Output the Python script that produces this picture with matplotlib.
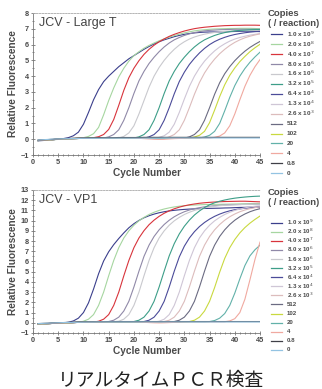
import matplotlib
matplotlib.use("Agg")
import matplotlib.pyplot as plt
from matplotlib.lines import Line2D
from matplotlib.ticker import MultipleLocator

plt.rcParams['font.family'] = ['Liberation Sans', 'DejaVu Sans']

cycles = list(range(1, 46))

copies = ["1.0 x 10$^9$", "2.0 x 10$^8$", "4.0 x 10$^7$", "8.0 x 10$^6$",
          "1.6 x 10$^6$", "3.2 x 10$^5$", "6.4 x 10$^4$", "1.3 x 10$^4$",
          "2.6 x 10$^3$", "512", "102", "20", "4", "0.8", "0"]

colors = ["#3b3f8c", "#a6d6a0", "#d8343c", "#9089a8", "#c9c9ce", "#3d9e88",
          "#4b4b99", "#cfc6d6", "#dcbcbc", "#6b6b82", "#c9d93f", "#62b1a9",
          "#f0a9a0", "#3f3f47", "#93c3e2"]

# JCV - Large T : relative fluorescence per cycle (1..45)
large_t = [
    [-0.10, -0.08, -0.05, -0.03, 0.00, 0.04, 0.10, 0.22, 0.45, 0.95,
     1.70, 2.50, 3.15, 3.65, 4.00, 4.30, 4.60, 4.85, 5.10, 5.30,
     5.50, 5.70, 5.88, 6.04, 6.18, 6.30, 6.40, 6.50, 6.58, 6.65,
     6.70, 6.74, 6.77, 6.79, 6.80, 6.80, 6.80, 6.81, 6.82, 6.83,
     6.84, 6.85, 6.85, 6.84, 6.82],
    [-0.09, -0.07, -0.05, -0.03, -0.01, 0.01, 0.03, 0.05, 0.07, 0.10,
     0.18, 0.35, 0.75, 1.55, 2.45, 3.25, 3.95, 4.50, 4.95, 5.30,
     5.55, 5.77, 5.95, 6.10, 6.24, 6.36, 6.47, 6.57, 6.66, 6.74,
     6.81, 6.87, 6.91, 6.94, 6.97, 6.99, 7.00, 7.01, 7.02, 7.02,
     7.03, 7.03, 7.03, 7.02, 7.00],
    [-0.08, -0.06, -0.04, -0.02, 0.00, 0.02, 0.04, 0.05, 0.06, 0.07,
     0.08, 0.10, 0.16, 0.30, 0.62, 1.25, 2.15, 3.10, 3.90, 4.50,
     4.98, 5.38, 5.70, 5.96, 6.18, 6.36, 6.52, 6.65, 6.76, 6.86,
     6.94, 7.01, 7.06, 7.10, 7.13, 7.16, 7.18, 7.20, 7.21, 7.22,
     7.22, 7.23, 7.23, 7.23, 7.22],
    [-0.08, -0.06, -0.04, -0.02, 0.00, 0.02, 0.03, 0.04, 0.05, 0.06,
     0.06, 0.07, 0.07, 0.08, 0.15, 0.30, 0.60, 1.20, 2.00, 2.90,
     3.70, 4.30, 4.80, 5.20, 5.55, 5.85, 6.10, 6.30, 6.45, 6.58,
     6.68, 6.76, 6.82, 6.87, 6.90, 6.92, 6.94, 6.95, 6.96, 6.97,
     6.97, 6.97, 6.97, 6.97, 6.97],
    [-0.08, -0.06, -0.04, -0.02, 0.00, 0.02, 0.03, 0.04, 0.05, 0.06,
     0.06, 0.07, 0.07, 0.08, 0.08, 0.08, 0.08, 0.18, 0.40, 0.85,
     1.60, 2.45, 3.30, 4.00, 4.55, 5.00, 5.38, 5.70, 5.97, 6.18,
     6.35, 6.48, 6.58, 6.66, 6.72, 6.77, 6.81, 6.84, 6.86, 6.88,
     6.89, 6.90, 6.90, 6.90, 6.90],
    [-0.08, -0.06, -0.04, -0.02, 0.00, 0.02, 0.03, 0.04, 0.05, 0.06,
     0.06, 0.07, 0.07, 0.08, 0.08, 0.08, 0.08, 0.08, 0.08, 0.08,
     0.15, 0.30, 0.60, 1.20, 2.00, 2.90, 3.70, 4.30, 4.80, 5.20,
     5.55, 5.85, 6.10, 6.30, 6.45, 6.58, 6.68, 6.76, 6.82, 6.87,
     6.90, 6.92, 6.94, 6.95, 6.96],
    [-0.08, -0.06, -0.04, -0.02, 0.00, 0.02, 0.03, 0.04, 0.05, 0.06,
     0.06, 0.07, 0.07, 0.08, 0.08, 0.08, 0.08, 0.08, 0.08, 0.08,
     0.08, 0.07, 0.15, 0.30, 0.60, 1.20, 2.00, 2.88, 3.66, 4.25,
     4.74, 5.13, 5.47, 5.76, 6.00, 6.19, 6.34, 6.46, 6.56, 6.64,
     6.70, 6.75, 6.79, 6.82, 6.84],
    [-0.08, -0.06, -0.04, -0.02, 0.00, 0.02, 0.03, 0.04, 0.05, 0.06,
     0.06, 0.07, 0.07, 0.08, 0.08, 0.08, 0.08, 0.08, 0.08, 0.08,
     0.08, 0.07, 0.06, 0.05, 0.12, 0.22, 0.45, 0.95, 1.70, 2.55,
     3.35, 4.00, 4.52, 4.95, 5.30, 5.60, 5.85, 6.05, 6.22, 6.35,
     6.45, 6.53, 6.60, 6.65, 6.70],
    [-0.08, -0.06, -0.04, -0.02, 0.00, 0.02, 0.03, 0.04, 0.05, 0.06,
     0.06, 0.07, 0.07, 0.08, 0.08, 0.08, 0.08, 0.08, 0.08, 0.08,
     0.08, 0.07, 0.06, 0.05, 0.04, 0.04, 0.15, 0.30, 0.60, 1.20,
     2.00, 2.85, 3.60, 4.20, 4.68, 5.08, 5.42, 5.70, 5.94, 6.14,
     6.30, 6.43, 6.53, 6.61, 6.68],
    [-0.08, -0.06, -0.04, -0.02, 0.00, 0.02, 0.03, 0.04, 0.05, 0.06,
     0.06, 0.07, 0.07, 0.08, 0.08, 0.08, 0.08, 0.08, 0.08, 0.08,
     0.08, 0.07, 0.06, 0.05, 0.05, 0.05, 0.06, 0.06, 0.07, 0.07,
     0.15, 0.30, 0.60, 1.20, 2.00, 2.85, 3.58, 4.15, 4.60, 4.98,
     5.30, 5.58, 5.82, 6.02, 6.20],
    [-0.08, -0.06, -0.04, -0.02, 0.00, 0.02, 0.03, 0.04, 0.05, 0.06,
     0.06, 0.07, 0.07, 0.08, 0.08, 0.08, 0.08, 0.08, 0.08, 0.08,
     0.08, 0.07, 0.06, 0.05, 0.05, 0.05, 0.06, 0.06, 0.07, 0.07,
     0.08, 0.14, 0.25, 0.50, 1.05, 1.85, 2.70, 3.45, 4.05, 4.52,
     4.92, 5.25, 5.55, 5.80, 6.02],
    [-0.08, -0.06, -0.04, -0.02, 0.00, 0.02, 0.03, 0.04, 0.05, 0.06,
     0.06, 0.07, 0.07, 0.08, 0.08, 0.08, 0.08, 0.08, 0.08, 0.08,
     0.08, 0.07, 0.06, 0.05, 0.05, 0.05, 0.06, 0.06, 0.07, 0.07,
     0.08, 0.08, 0.08, 0.14, 0.25, 0.50, 1.00, 1.80, 2.65, 3.40,
     4.00, 4.48, 4.88, 5.22, 5.52],
    [-0.08, -0.06, -0.04, -0.02, 0.00, 0.02, 0.03, 0.04, 0.05, 0.06,
     0.06, 0.07, 0.07, 0.08, 0.08, 0.08, 0.08, 0.08, 0.08, 0.08,
     0.06, 0.04, 0.02, 0.00, -0.01, 0.00, 0.02, 0.04, 0.05, 0.06,
     0.07, 0.08, 0.08, 0.08, 0.08, 0.12, 0.20, 0.40, 0.85, 1.60,
     2.50, 3.35, 4.05, 4.60, 5.05],
    [-0.06, -0.04, -0.02, 0.00, 0.02, 0.04, 0.05, 0.06, 0.07, 0.08,
     0.09, 0.09, 0.10, 0.10, 0.10, 0.10, 0.11, 0.11, 0.11, 0.11,
     0.11, 0.12, 0.12, 0.12, 0.12, 0.12, 0.12, 0.12, 0.12, 0.12,
     0.12, 0.12, 0.12, 0.12, 0.12, 0.12, 0.12, 0.12, 0.12, 0.12,
     0.12, 0.12, 0.12, 0.12, 0.12],
    [-0.05, -0.03, -0.01, 0.01, 0.02, 0.03, 0.04, 0.05, 0.05, 0.06,
     0.06, 0.06, 0.06, 0.07, 0.07, 0.07, 0.07, 0.07, 0.07, 0.07,
     0.07, 0.07, 0.07, 0.07, 0.07, 0.08, 0.08, 0.08, 0.08, 0.08,
     0.08, 0.08, 0.08, 0.08, 0.08, 0.08, 0.08, 0.08, 0.08, 0.08,
     0.08, 0.08, 0.08, 0.08, 0.08],
]

# JCV - VP1
vp1 = [
    [-0.10, -0.10, -0.08, -0.06, -0.04, -0.01, 0.05, 0.18, 0.45, 1.00,
     1.95, 3.30, 4.80, 6.05, 6.95, 7.65, 8.25, 8.80, 9.30, 9.70,
     10.02, 10.28, 10.48, 10.64, 10.77, 10.87, 10.95, 11.01, 11.06, 11.10,
     11.13, 11.15, 11.17, 11.19, 11.20, 11.21, 11.22, 11.24, 11.25, 11.27,
     11.29, 11.30, 11.32, 11.34, 11.36],
    [-0.10, -0.10, -0.08, -0.06, -0.04, -0.02, 0.00, 0.02, 0.04, 0.15,
     0.35, 0.80, 1.70, 3.00, 4.60, 6.10, 7.35, 8.30, 9.00, 9.55,
     9.98, 10.32, 10.60, 10.82, 11.00, 11.14, 11.25, 11.34, 11.41, 11.46,
     11.50, 11.53, 11.55, 11.57, 11.58, 11.59, 11.60, 11.61, 11.62, 11.63,
     11.64, 11.65, 11.66, 11.67, 11.68],
    [-0.10, -0.10, -0.08, -0.06, -0.04, -0.02, 0.00, 0.02, 0.04, 0.05,
     0.06, 0.07, 0.15, 0.35, 0.80, 1.70, 3.00, 4.60, 6.10, 7.35,
     8.30, 9.02, 9.60, 10.05, 10.42, 10.72, 10.96, 11.16, 11.32, 11.45,
     11.55, 11.63, 11.70, 11.75, 11.79, 11.82, 11.85, 11.87, 11.88, 11.89,
     11.90, 11.90, 11.88, 11.86, 11.84],
    [-0.10, -0.10, -0.08, -0.06, -0.04, -0.02, 0.00, 0.02, 0.04, 0.05,
     0.06, 0.07, 0.08, 0.08, 0.12, 0.25, 0.55, 1.15, 2.10, 3.50,
     5.05, 6.50, 7.60, 8.45, 9.10, 9.62, 10.04, 10.38, 10.65, 10.87,
     11.04, 11.17, 11.27, 11.35, 11.41, 11.46, 11.50, 11.53, 11.55, 11.57,
     11.58, 11.59, 11.60, 11.60, 11.60],
    [-0.10, -0.10, -0.08, -0.06, -0.04, -0.02, 0.00, 0.02, 0.04, 0.05,
     0.06, 0.07, 0.08, 0.08, 0.09, 0.10, 0.15, 0.35, 0.80, 1.70,
     3.00, 4.60, 6.10, 7.35, 8.30, 9.00, 9.55, 9.98, 10.32, 10.60,
     10.82, 11.00, 11.14, 11.25, 11.34, 11.41, 11.46, 11.50, 11.53, 11.55,
     11.57, 11.58, 11.59, 11.60, 11.60],
    [-0.10, -0.10, -0.08, -0.06, -0.04, -0.02, 0.00, 0.02, 0.04, 0.05,
     0.06, 0.07, 0.08, 0.08, 0.09, 0.10, 0.10, 0.10, 0.10, 0.12,
     0.25, 0.55, 1.15, 2.10, 3.50, 5.05, 6.55, 7.75, 8.70, 9.45,
     10.05, 10.55, 10.95, 11.28, 11.55, 11.75, 11.90, 12.02, 12.12, 12.20,
     12.26, 12.31, 12.35, 12.38, 12.40],
    [-0.10, -0.10, -0.08, -0.06, -0.04, -0.02, 0.00, 0.02, 0.04, 0.05,
     0.06, 0.07, 0.08, 0.08, 0.09, 0.10, 0.10, 0.10, 0.10, 0.10,
     0.10, 0.12, 0.25, 0.55, 1.15, 2.10, 3.50, 5.05, 6.45, 7.50,
     8.30, 8.92, 9.42, 9.82, 10.15, 10.42, 10.64, 10.82, 10.96, 11.07,
     11.15, 11.21, 11.26, 11.30, 11.33],
    [-0.10, -0.10, -0.08, -0.06, -0.04, -0.02, 0.00, 0.02, 0.04, 0.05,
     0.06, 0.07, 0.08, 0.08, 0.09, 0.10, 0.10, 0.10, 0.10, 0.10,
     0.10, 0.09, 0.08, 0.07, 0.15, 0.35, 0.80, 1.70, 3.00, 4.60,
     6.10, 7.35, 8.30, 9.00, 9.55, 9.98, 10.32, 10.60, 10.82, 11.00,
     11.14, 11.25, 11.34, 11.41, 11.46],
    [-0.10, -0.10, -0.08, -0.06, -0.04, -0.02, 0.00, 0.02, 0.04, 0.05,
     0.06, 0.07, 0.08, 0.08, 0.09, 0.10, 0.10, 0.10, 0.10, 0.10,
     0.10, 0.09, 0.08, 0.07, 0.06, 0.12, 0.25, 0.55, 1.15, 2.10,
     3.50, 5.05, 6.50, 7.60, 8.45, 9.10, 9.62, 10.04, 10.38, 10.65,
     10.87, 11.04, 11.17, 11.27, 11.35],
    [-0.10, -0.10, -0.08, -0.06, -0.04, -0.02, 0.00, 0.02, 0.04, 0.05,
     0.06, 0.07, 0.08, 0.08, 0.09, 0.10, 0.10, 0.10, 0.10, 0.10,
     0.10, 0.09, 0.08, 0.07, 0.06, 0.06, 0.07, 0.12, 0.25, 0.55,
     1.15, 2.10, 3.50, 5.05, 6.50, 7.60, 8.45, 9.10, 9.62, 10.04,
     10.38, 10.65, 10.87, 11.04, 11.17],
    [-0.10, -0.10, -0.08, -0.06, -0.04, -0.02, 0.00, 0.02, 0.04, 0.05,
     0.06, 0.07, 0.08, 0.08, 0.09, 0.10, 0.10, 0.10, 0.10, 0.10,
     0.10, 0.09, 0.08, 0.07, 0.06, 0.06, 0.07, 0.08, 0.09, 0.10,
     0.12, 0.25, 0.55, 1.15, 2.10, 3.45, 4.95, 6.30, 7.35, 8.15,
     8.80, 9.32, 9.75, 10.12, 10.45],
    [-0.10, -0.10, -0.08, -0.06, -0.04, -0.02, 0.00, 0.02, 0.04, 0.05,
     0.06, 0.07, 0.08, 0.08, 0.09, 0.10, 0.10, 0.10, 0.10, 0.10,
     0.10, 0.09, 0.08, 0.07, 0.06, 0.06, 0.07, 0.08, 0.09, 0.10,
     0.10, 0.10, 0.10, 0.10, 0.12, 0.22, 0.45, 0.90, 1.70, 2.90,
     4.30, 5.60, 6.55, 7.15, 7.60],
    [-0.10, -0.10, -0.08, -0.06, -0.04, -0.02, 0.00, 0.02, 0.04, 0.05,
     0.06, 0.07, 0.08, 0.08, 0.09, 0.10, 0.10, 0.10, 0.10, 0.10,
     0.08, 0.05, 0.02, 0.00, -0.01, 0.00, 0.02, 0.04, 0.06, 0.08,
     0.09, 0.10, 0.10, 0.10, 0.10, 0.10, 0.10, 0.10, 0.18, 0.40,
     1.00, 2.30, 4.20, 6.20, 7.90],
    [-0.08, -0.06, -0.04, -0.02, 0.00, 0.02, 0.04, 0.06, 0.08, 0.09,
     0.10, 0.10, 0.11, 0.11, 0.12, 0.12, 0.12, 0.12, 0.12, 0.12,
     0.12, 0.12, 0.12, 0.12, 0.12, 0.12, 0.12, 0.12, 0.12, 0.12,
     0.12, 0.12, 0.12, 0.12, 0.12, 0.12, 0.12, 0.12, 0.12, 0.12,
     0.12, 0.12, 0.12, 0.12, 0.12],
    [-0.08, -0.06, -0.04, -0.02, 0.00, 0.02, 0.03, 0.04, 0.05, 0.06,
     0.07, 0.07, 0.08, 0.08, 0.08, 0.08, 0.08, 0.08, 0.08, 0.08,
     0.08, 0.08, 0.08, 0.08, 0.08, 0.08, 0.08, 0.08, 0.08, 0.08,
     0.08, 0.08, 0.08, 0.08, 0.08, 0.08, 0.08, 0.08, 0.08, 0.08,
     0.08, 0.08, 0.08, 0.08, 0.08],
]

txt = "#4a4a4a"
W, H = 322, 389

fig = plt.figure(figsize=(W / 100, H / 100), dpi=100)
ax1 = fig.add_axes([0.1025, 0.6015, 0.705, 0.365])
ax2 = fig.add_axes([0.1025, 0.144, 0.705, 0.3676])


def legend_block(top_px, first_px, step_px, size):
    # hand-placed legend (pixel positions measured from the top-left)
    fig.text(268 / W, 1 - top_px / H, "Copies", ha="left", va="center",
             fontsize=6.8, fontweight="bold", color=txt)
    fig.text(268 / W, 1 - (top_px + 10) / H, "( / reaction)", ha="left",
             va="center", fontsize=6.8, fontweight="bold", color=txt)
    for i, (col, lab) in enumerate(zip(colors, copies)):
        y = 1 - (first_px + i * step_px) / H
        fig.add_artist(Line2D([271 / W, 282 / W], [y, y], color=col, lw=0.9,
                              transform=fig.transFigure))
        fig.text(287 / W, y, lab, ha="left", va="center", fontsize=size,
                 fontweight="bold", color=txt)


def panel(ax, data, ymax, name):
    for vals, col, lab in zip(data, colors, copies):
        ax.plot(cycles, vals, color=col, lw=0.8, label=lab)
    ax.set_xlim(0, 45)
    ax.set_ylim(-1, ymax)
    ax.xaxis.set_major_locator(MultipleLocator(5))
    ax.xaxis.set_minor_locator(MultipleLocator(1))
    ax.yaxis.set_major_locator(MultipleLocator(1))
    ax.yaxis.set_minor_locator(MultipleLocator(0.5))
    ax.tick_params(which="both", direction="inout", colors="#777", labelcolor=txt,
                   labelsize=5.3, width=0.6, pad=1.5)
    ax.tick_params(which="major", length=3)
    ax.tick_params(which="minor", length=1.8)
    for lbl in ax.get_xticklabels() + ax.get_yticklabels():
        lbl.set_fontweight("bold")
    ax.spines["right"].set_visible(False)
    ax.spines["top"].set_linestyle((0, (2, 1.5)))
    ax.spines["top"].set_color("#aaa")
    ax.spines["left"].set_color("#777")
    ax.spines["bottom"].set_color("#777")
    for s in ax.spines.values():
        s.set_linewidth(0.6)
    ax.set_ylabel("Relative Fluorescence", fontsize=7.3, fontweight="bold",
                  color=txt, labelpad=2)
    ax.set_xlabel("Cycle Number", fontsize=7.3, fontweight="bold", color=txt,
                  labelpad=1)
    ax.text(0.025, 0.97, name, transform=ax.transAxes, ha="left", va="top",
            fontsize=9, color="#444")


panel(ax1, large_t, 8, "JCV - Large T")
panel(ax2, vp1, 13, "JCV - VP1")
legend_block(13, 34, 9.95, 4.6)
legend_block(192.5, 222.5, 9.1, 4.4)

fig.text(0.5, 1 - 380 / H, "リアルタイムＰＣＲ検査", ha="center", va="center",
         fontsize=13.5, color="#222", family=["Noto Sans CJK JP", "DejaVu Sans"])

fig.savefig("out.png", dpi=100)
